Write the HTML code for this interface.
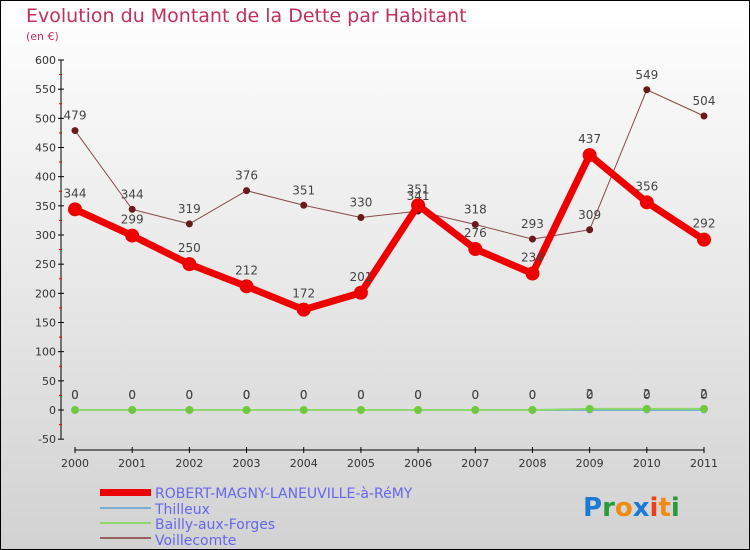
<!DOCTYPE html>
<html><head><meta charset="utf-8"><style>
body{margin:0}
svg{display:block;font-family:"DejaVu Sans","Liberation Sans",sans-serif}
</style></head><body>
<svg width="750" height="550" viewBox="0 0 750 550">
<defs><linearGradient id="bg" x1="0" y1="0" x2="0" y2="1"><stop offset="0" stop-color="#ffffff"/><stop offset="1" stop-color="#d2d2d2"/></linearGradient></defs>
<rect x="0.5" y="0.5" width="749" height="549" fill="url(#bg)" stroke="#000"/>
<text x="26" y="22" font-size="19" fill="#c0305a">Evolution du Montant de la Dette par Habitant</text>
<text x="26" y="40" font-size="11" fill="#c0305a">(en €)</text>
<g id="axes"></g>
<g id="series"></g>
<g>
<rect x="100" y="489" width="51" height="7" fill="#ee0000"/>
<text x="155" y="498" font-size="14" fill="#6666ee">ROBERT-MAGNY-LANEUVILLE-à-RéMY</text>
<rect x="100" y="507" width="51" height="2" fill="#7aaed0"/>
<text x="155" y="514" font-size="14" fill="#6666ee">Thilleux</text>
<rect x="100" y="522" width="51" height="2" fill="#8ed870"/>
<text x="155" y="529" font-size="14" fill="#6666ee">Bailly-aux-Forges</text>
<rect x="100" y="537" width="51" height="2" fill="#9a6060"/>
<text x="155" y="545" font-size="14" fill="#6666ee">Voillecomte</text>
</g>
<g font-size="26" font-weight="bold" font-family="'DejaVu Sans',sans-serif">
<text x="583" y="516"><tspan fill="#1a7ad4">P</tspan><tspan fill="#2a9a3a">r</tspan><tspan fill="#f08a10">o</tspan><tspan fill="#1a7ad4">x</tspan><tspan fill="#e8401a">i</tspan><tspan fill="#f08a10">t</tspan><tspan fill="#2a9a3a">i</tspan></text>
</g>
</svg>
<script>
const years=[2000,2001,2002,2003,2004,2005,2006,2007,2008,2009,2010,2011];
const robert=[344,299,250,212,172,201,351,276,234,437,356,292];
const thilleux=[0,0,0,0,0,0,0,0,0,0,0,0];
const bailly=[0,0,0,0,0,0,0,0,0,2,2,2];
const voille=[479,344,319,376,351,330,341,318,293,309,549,504];
const yTicks=[600,550,500,450,400,350,300,250,200,150,100,50,0,-50];
const NS='http://www.w3.org/2000/svg';
const X=i=>75+i*(704-75)/11;
const Y=v=>410-v*(410-60)/600;
function mk(t,a,p){const e=document.createElementNS(NS,t);for(const k in a)e.setAttribute(k,a[k]);p.appendChild(e);return e;}
const ax=document.getElementById('axes');
mk('line',{x1:61,y1:60,x2:61,y2:439,stroke:'#000'},ax);
mk('line',{x1:75,y1:450,x2:704,y2:450,stroke:'#000'},ax);
yTicks.forEach(v=>{const y=Y(v);
const tk=mk('line',{x1:58,x2:64,y1:y,y2:y,stroke:'#000'},ax);

const t=mk('text',{x:56,y:y+4,'font-size':11,fill:'#333','text-anchor':'end'},ax);t.textContent=v;

if(v>-50){const m=Y(v-25);mk('line',{x1:59,x2:62,y1:m,y2:m,stroke:'#e00'},ax);}
});
years.forEach((yr,i)=>{const x=X(i);
mk('line',{x1:x,x2:x,y1:447,y2:453,stroke:'#000'},ax);
const t=mk('text',{x:x,y:467,'font-size':11,fill:'#333','text-anchor':'middle'},ax);t.textContent=yr;

});
const sg=document.getElementById('series');
function series(name,vals,color,w,r,dot,labelDy){
const g=mk('g',{},sg);
mk('polyline',{points:vals.map((v,i)=>X(i)+','+Y(v)).join(' '),fill:'none',stroke:color,'stroke-width':w,'stroke-linejoin':'round'},g);
vals.forEach((v,i)=>{const c=mk('circle',{cx:X(i),cy:Y(v),r:r,fill:dot},g);

const t=mk('text',{x:X(i),y:Y(v)+labelDy,'font-size':12,fill:'#444','text-anchor':'middle'},g);t.textContent=v;
});
}
series('voillecomte-line',voille,'#8a4a4a',1,3.5,'#6a1a1a',-11);
series('robert-line',robert,'#ee0000',7,7,'#ee0000',-12);
series('thilleux-line',thilleux,'#7aaed0',2,3.5,'#7aaed0',-11);
series('bailly-line',bailly,'#8ed870',2,4,'#70c840',-11);
</script>
</body></html>
